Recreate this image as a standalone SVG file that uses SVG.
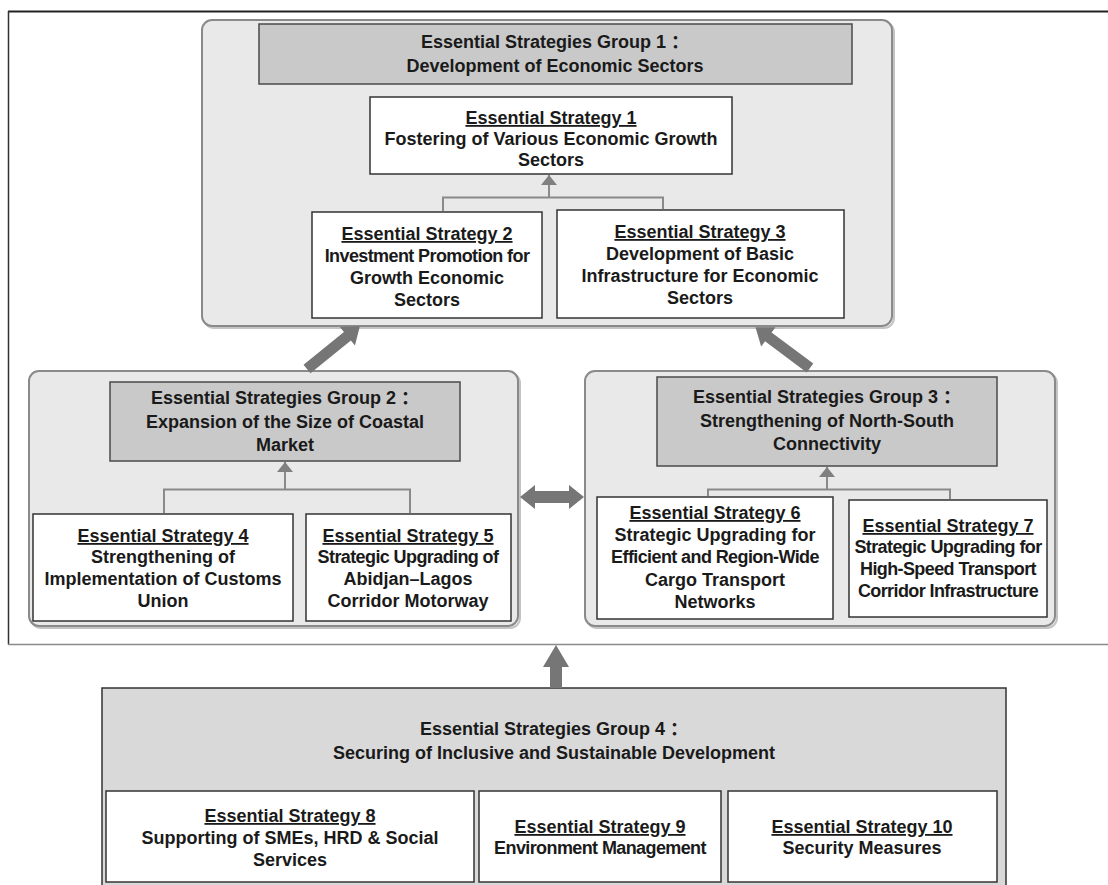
<svg xmlns="http://www.w3.org/2000/svg" width="1108" height="885" viewBox="0 0 1108 885">
<style>
text{font-family:"Liberation Sans",Arial,"Noto Sans CJK SC",sans-serif;font-size:18px;font-weight:bold;fill:#1a1a1a;text-anchor:middle}
.u{text-decoration:underline}
.tight{letter-spacing:-0.6px}
.cont{fill:#e9e9e9;stroke:#8a8a8a;stroke-width:2}
.shadow{fill:none;stroke:#c4c4c4;stroke-width:2}
.hdr{fill:#c9c9c9;stroke:#4a4a4a;stroke-width:1.5}
.box{fill:#ffffff;stroke:#333333;stroke-width:1.5}
.conn{fill:none;stroke:#8a8a8a;stroke-width:2}
.big{fill:#767676}
</style>
<defs>
<marker id="ah" markerUnits="userSpaceOnUse" markerWidth="11" markerHeight="16" refX="10" refY="8" orient="auto">
<path d="M0,0 L10,8 L0,16 Z" fill="#808080"/>
</marker>
</defs>
<rect width="1108" height="885" fill="#ffffff"/>
<g id="frame">
<line x1="8" y1="11.5" x2="1108" y2="11.5" stroke="#222" stroke-width="2"/>
<line x1="8.5" y1="11" x2="8.5" y2="644.5" stroke="#333" stroke-width="1.5"/>
<line x1="8" y1="644.5" x2="1108" y2="644.5" stroke="#8a8a8a" stroke-width="1.5"/>
</g>
<g id="group1">
<rect class="shadow" x="204" y="22" width="690" height="306" rx="10"/>
<rect class="cont" x="202" y="20" width="690" height="306" rx="10"/>
<rect class="hdr" x="259" y="24" width="593" height="60"/>
<text x="555" y="48">Essential Strategies Group 1 ：</text>
<text x="555" y="72">Development of Economic Sectors</text>
</g>
<g id="es1">
<rect class="box" x="370" y="97" width="362" height="77"/>
<text x="551" y="124" class="u">Essential Strategy 1</text>
<text x="551" y="145">Fostering of Various Economic Growth</text>
<text x="551" y="166">Sectors</text>
</g>
<g id="es2">
<rect class="box" x="312" y="212" width="230" height="106"/>
<text x="427" y="240" class="u">Essential Strategy 2</text>
<text x="427" y="262" class="tight">Investment Promotion for</text>
<text x="427" y="284">Growth Economic</text>
<text x="427" y="306">Sectors</text>
</g>
<g id="es3">
<rect class="box" x="557" y="210" width="287" height="108"/>
<text x="700" y="238" class="u">Essential Strategy 3</text>
<text x="700" y="260">Development of Basic</text>
<text x="700" y="282">Infrastructure for Economic</text>
<text x="700" y="304">Sectors</text>
</g>
<g id="group2">
<rect class="shadow" x="31" y="373" width="489" height="255" rx="10"/>
<rect class="cont" x="29" y="371" width="489" height="255" rx="10"/>
<rect class="hdr" x="110" y="382" width="350" height="79"/>
<text x="285" y="404">Essential Strategies Group 2 ：</text>
<text x="285" y="428">Expansion of the Size of Coastal</text>
<text x="285" y="451">Market</text>
</g>
<g id="es4">
<rect class="box" x="33" y="514" width="260" height="107"/>
<text x="163" y="542" class="u">Essential Strategy 4</text>
<text x="163" y="563">Strengthening of</text>
<text x="163" y="585">Implementation of Customs</text>
<text x="163" y="607">Union</text>
</g>
<g id="es5">
<rect class="box" x="306" y="514" width="205" height="107"/>
<text x="408" y="542" class="u">Essential Strategy 5</text>
<text x="408" y="563" class="tight">Strategic Upgrading of</text>
<text x="408" y="585">Abidjan–Lagos</text>
<text x="408" y="607">Corridor Motorway</text>
</g>
<g id="group3">
<rect class="shadow" x="587" y="373" width="470" height="255" rx="10"/>
<rect class="cont" x="585" y="371" width="470" height="255" rx="10"/>
<rect class="hdr" x="657" y="377" width="340" height="89"/>
<text x="827" y="403">Essential Strategies Group 3 ：</text>
<text x="827" y="427">Strengthening of North-South</text>
<text x="827" y="450">Connectivity</text>
</g>
<g id="es6">
<rect class="box" x="597" y="497" width="236" height="122"/>
<text x="715" y="519" class="u">Essential Strategy 6</text>
<text x="715" y="541">Strategic Upgrading for</text>
<text x="715" y="563" class="tight">Efficient and Region-Wide</text>
<text x="715" y="586">Cargo Transport</text>
<text x="715" y="608">Networks</text>
</g>
<g id="es7">
<rect class="box" x="849" y="500" width="198" height="117"/>
<text x="948" y="532" class="u">Essential Strategy 7</text>
<text x="948" y="553" class="tight">Strategic Upgrading for</text>
<text x="948" y="575" class="tight">High-Speed Transport</text>
<text x="948" y="597" class="tight">Corridor Infrastructure</text>
</g>
<g id="group4">
<rect x="102" y="688" width="904" height="200" fill="#d9d9d9" stroke="#333" stroke-width="1.5"/>
<text x="554" y="735">Essential Strategies Group 4 ：</text>
<text x="554" y="759">Securing of Inclusive and Sustainable Development</text>
</g>
<g id="es8">
<rect class="box" x="106" y="791" width="368" height="91"/>
<text x="290" y="822" class="u">Essential Strategy 8</text>
<text x="290" y="844">Supporting of SMEs, HRD &amp; Social</text>
<text x="290" y="866">Services</text>
</g>
<g id="es9">
<rect class="box" x="479" y="791" width="242" height="91"/>
<text x="600" y="833" class="u">Essential Strategy 9</text>
<text x="600" y="854" class="tight">Environment Management</text>
</g>
<g id="es10">
<rect class="box" x="728" y="791" width="269" height="91"/>
<text x="862" y="833" class="u">Essential Strategy 10</text>
<text x="862" y="854">Security Measures</text>
</g>
<g id="connectors">
<path class="conn" d="M443,211 V197.5 H663 V209"/>
<path class="conn" d="M549,197.5 V175" marker-end="url(#ah)"/>
<path class="conn" d="M164,513 V489.5 H410 V513"/>
<path class="conn" d="M285,489.5 V462" marker-end="url(#ah)"/>
<path class="conn" d="M708,496 V489.5 H950 V499"/>
<path class="conn" d="M827,489.5 V467" marker-end="url(#ah)"/>
<polygon class="big" transform="translate(307,369) rotate(-39)" points="0,-5.5 52,-5.5 52,-12 68,0 52,12 52,5.5 0,5.5"/>
<polygon class="big" transform="translate(810,368) rotate(-143.3)" points="0,-5.5 52,-5.5 52,-12 68,0 52,12 52,5.5 0,5.5"/>
<polygon class="big" points="520,497 535,485 535,491 569,491 569,485 584,497 569,509 569,503 535,503 535,509"/>
<polygon class="big" points="556,645 569,667 562,667 562,688 550,688 550,667 543,667"/>
</g>
</svg>
